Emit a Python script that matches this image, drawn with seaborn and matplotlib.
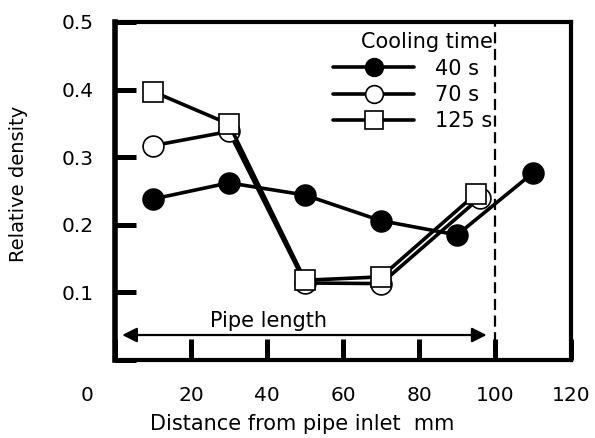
import seaborn as sns
import matplotlib.pyplot as plt
from matplotlib.transforms import ScaledTranslation

sns.set_style('white', rc={'text.color': 'black', 'axes.labelcolor': 'black',
                           'xtick.color': 'black', 'ytick.color': 'black'})
plt.rcParams['font.family'] = ['DejaVu Sans']

# data
x_40 = [10, 30, 50, 70, 90, 110]
y_40 = [0.238, 0.262, 0.244, 0.206, 0.185, 0.277]
x_70 = [10, 30, 50, 70, 96]
y_70 = [0.317, 0.338, 0.114, 0.113, 0.240]
x_125 = [10, 30, 50, 70, 95]
y_125 = [0.397, 0.349, 0.118, 0.123, 0.246]
labels = ['40 s', '70 s', '125 s']
xticks = [0, 20, 40, 60, 80, 100, 120]
yticks = [0, 0.1, 0.2, 0.3, 0.4, 0.5]
ytick_labels = ['', '0.1', '0.2', '0.3', '0.4', '0.5']

fig = plt.figure(figsize=(5.95, 4.38), dpi=100)
ax = fig.add_axes([0.193, 0.178, 0.767, 0.772])

series = [(x_40, y_40, 'o', 'black'), (x_70, y_70, 'o', 'white'), (x_125, y_125, 's', 'white')]
for (xs, ys, m, fc), lab in zip(series, labels):
    sns.lineplot(x=xs, y=ys, ax=ax, color='black', lw=2.6, marker=m, markersize=15,
                 markerfacecolor=fc, markeredgecolor='black', markeredgewidth=1.2, label=lab)

ax.axvline(100, color='black', ls='--', lw=1.6, dashes=(5, 2.5))
ax.annotate('', xy=(1.2, 0.037), xytext=(98.5, 0.037),
            arrowprops=dict(arrowstyle='<|-|>', color='black', lw=1.6, mutation_scale=22))
ax.text(40.5, 0.057, 'Pipe length', ha='center', va='center', fontsize=15, color='black')

ax.set_xlim(0, 120)
ax.set_ylim(0, 0.5)
ax.set_xticks(xticks)
ax.set_xticklabels([str(t) for t in xticks])
ax.set_yticks(yticks)
ax.set_yticklabels(ytick_labels)
ax.tick_params(direction='in', length=15, width=3.6, labelsize=14.5, color='black',
               labelcolor='black', bottom=True, left=True)
ax.tick_params(axis='x', pad=19)
ax.tick_params(axis='y', pad=15)
lab0 = ax.get_xticklabels()[0]
lab0.set_transform(lab0.get_transform() + ScaledTranslation(-0.28, 0, fig.dpi_scale_trans))

for side in ['left', 'bottom', 'top', 'right']:
    ax.spines[side].set_color('black')
    ax.spines[side].set_linewidth(3)
ax.spines['left'].set_linewidth(4)

ax.set_xlabel('Distance from pipe inlet  mm', fontsize=15, color='black')
ax.set_ylabel('Relative density', fontsize=14, color='black')
ax.xaxis.set_label_coords(0.41, -0.16)
ax.yaxis.set_label_coords(-0.19, 0.52)

leg = ax.legend(title='Cooling time', loc='upper right', bbox_to_anchor=(0.832, 0.975), frameon=False,
                fontsize=15, title_fontsize=15, handlelength=3.9, handletextpad=1.0,
                labelspacing=0.3, borderaxespad=0, borderpad=0.1, markerscale=0.85)
leg._legend_box.align = 'right'
leg.get_title().set_color('black')
for t in leg.get_texts():
    t.set_color('black')

fig.savefig('out.png', dpi=100)
